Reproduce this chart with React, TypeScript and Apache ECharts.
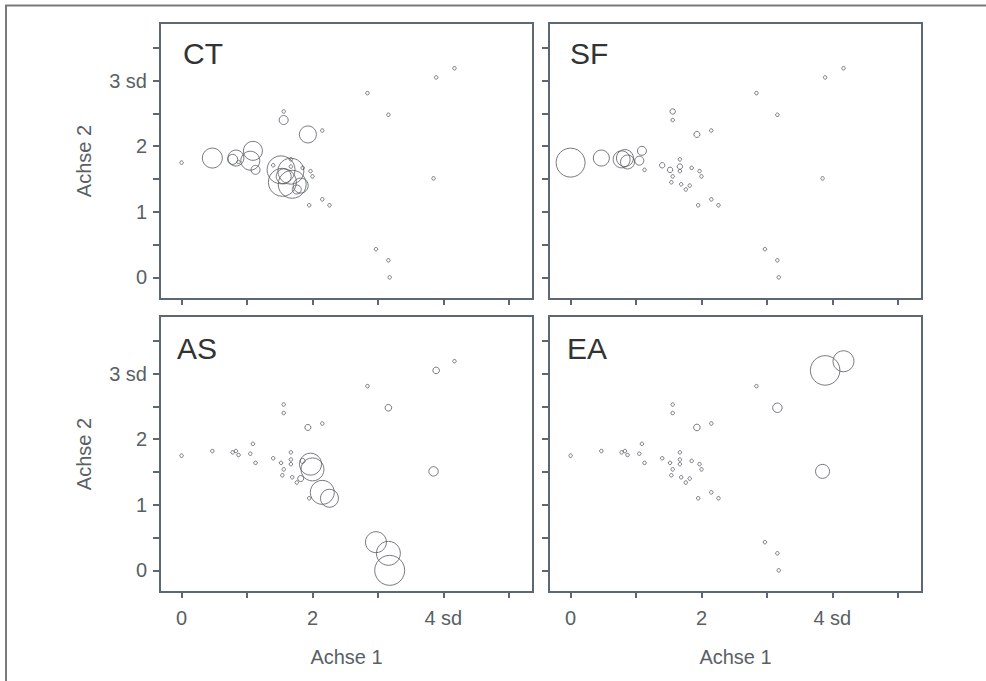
import React, { useEffect, useRef } from "react";
import * as echarts from "echarts";

// Point coordinates (shared by all four panels)
const axis1: number[] = [0.0, 0.47, 0.78, 0.83, 0.87, 1.05, 1.09, 1.13, 1.40, 1.52, 1.56, 1.56, 1.56, 1.54, 1.67, 1.67, 1.67, 1.69, 1.76, 1.82, 1.85, 1.93, 1.97, 2.0, 2.15, 2.15, 1.95, 2.26, 2.84, 3.16, 2.97, 3.16, 3.18, 3.85, 3.89, 4.17];
const axis2: number[] = [1.75, 1.82, 1.80, 1.82, 1.76, 1.78, 1.93, 1.64, 1.71, 1.64, 2.53, 2.40, 1.54, 1.45, 1.80, 1.69, 1.62, 1.42, 1.34, 1.40, 1.67, 2.18, 1.62, 1.54, 2.24, 1.19, 1.10, 1.10, 2.81, 2.48, 0.43, 0.26, 0.0, 1.51, 3.05, 3.19];

// Bubble weights per panel (0 = minimal marker)
const weightCT: number[] = [0, 10, 5, 8, 0, 9.5, 9.5, 4.5, 0, 14, 0, 4.5, 7.5, 14, 0, 0, 13, 14, 4.5, 7.5, 0, 8.5, 0, 0, 0, 0, 0, 0, 0, 0, 0, 0, 0, 0, 0, 0];
const weightSF: number[] = [14.5, 8, 8.5, 8.5, 7, 4.5, 4.5, 0, 2.7, 2.7, 2.7, 0, 0, 0, 0, 2.7, 0, 0, 0, 0, 0, 3, 0, 0, 0, 0, 0, 0, 0, 0, 0, 0, 0, 0, 0, 0];
const weightAS: number[] = [0, 0, 0, 0, 0, 0, 0, 0, 0, 0, 0, 0, 0, 0, 0, 0, 0, 0, 0, 3, 2.5, 3, 11, 11.5, 0, 12, 0, 9, 0, 3.3, 10.5, 12, 15, 4.7, 3.3, 0];
const weightEA: number[] = [0, 0, 0, 0, 0, 0, 0, 0, 0, 0, 0, 0, 0, 0, 0, 0, 0, 0, 0, 0, 0, 3.3, 0, 0, 0, 0, 0, 0, 0, 4.7, 0, 0, 0, 7, 14.8, 10.5];

const panelNames: string[] = ["CT", "SF", "AS", "EA"];
const xTickValues: number[] = [0, 1, 2, 3, 4, 5];
const xLabelValues: number[] = [0, 2, 4];
const yTickValues: number[] = [0, 0.5, 1, 1.5, 2, 2.5, 3, 3.5];
const yLabelValues: number[] = [0, 1, 2, 3];
const xAxisTitle = "Achse 1";
const yAxisTitle = "Achse 2";

const BOX = "#5e6874";
const TEXT = "#5a5f66";
const FONT = "Liberation Sans, Arial, sans-serif";

export default function App() {
  const ref = useRef<HTMLDivElement>(null);

  useEffect(() => {
    if (!ref.current) return;
    const chart = echarts.init(ref.current, null, { renderer: "svg" });
    const weights = [weightCT, weightSF, weightAS, weightEA];
    const grids = [
      { left: 160, top: 23 },
      { left: 549, top: 23 },
      { left: 160, top: 316 },
      { left: 549, top: 316 },
    ];
    const labelPos = [
      [183, 38],
      [570, 38],
      [177, 333],
      [567, 333],
    ];

    const option: any = {
      animation: false,
      backgroundColor: "#ffffff",
      grid: grids.map((g) => ({
        left: g.left,
        top: g.top,
        width: 373,
        height: 276,
        show: true,
        borderColor: BOX,
        borderWidth: 2,
        backgroundColor: "transparent",
      })),
      xAxis: grids.map((_, i) => ({
        type: "value",
        gridIndex: i,
        position: "bottom",
        min: -0.33,
        max: 5.37,
        axisLine: { show: false, onZero: false },
        splitLine: { show: false },
        axisTick: {
          show: true,
          customValues: xTickValues,
          length: 6,
          lineStyle: { color: BOX, width: 2 },
        },
        axisLabel: {
          show: i >= 2,
          customValues: xLabelValues,
          margin: 16,
          fontSize: 20,
          color: TEXT,
          fontFamily: FONT,
          formatter: (v: number) => (v === 4 ? "4 sd" : String(v)),
        },
        name: i >= 2 ? xAxisTitle : "",
        nameLocation: "middle",
        nameGap: 55,
        nameTextStyle: { fontSize: 20, color: TEXT, fontFamily: FONT },
      })),
      yAxis: grids.map((_, i) => ({
        type: "value",
        gridIndex: i,
        position: "left",
        min: -0.33,
        max: 3.88,
        axisLine: { show: false, onZero: false },
        splitLine: { show: false },
        axisTick: {
          show: true,
          customValues: yTickValues,
          length: 7,
          lineStyle: { color: BOX, width: 2 },
        },
        axisLabel: {
          show: i % 2 === 0,
          customValues: yLabelValues,
          margin: 13,
          fontSize: 20,
          color: TEXT,
          fontFamily: FONT,
          formatter: (v: number) => (v === 3 ? "3 sd" : String(v)),
        },
        name: i % 2 === 0 ? yAxisTitle : "",
        nameLocation: "middle",
        nameGap: 66,
        nameRotate: 90,
        nameTextStyle: { fontSize: 20, color: TEXT, fontFamily: FONT },
      })),
      series: weights.map((w, i) => ({
        type: "scatter",
        xAxisIndex: i,
        yAxisIndex: i,
        name: panelNames[i],
        symbol: "circle",
        symbolSize: (val: number[]) => (val[2] > 0 ? val[2] * 2 : 3.5),
        itemStyle: {
          color: "rgba(0,0,0,0)",
          borderColor: "#555a60",
          borderWidth: 1,
        },
        emphasis: { disabled: true },
        data: axis1.map((x, k) => [x, axis2[k], w[k]]),
      })),
      graphic: [
        {
          type: "polyline",
          shape: { points: [[6, 681], [6, 5.5], [986, 5.5]] },
          style: { stroke: "#7a7a7a", lineWidth: 2, fill: "none" },
          silent: true,
        },
        ...panelNames.map((n, i) => ({
          type: "text",
          x: labelPos[i][0],
          y: labelPos[i][1],
          style: {
            text: n,
            fontSize: 30,
            fill: "#333333",
            fontFamily: FONT,
            textVerticalAlign: "top",
          },
          silent: true,
        })),
      ],
    };
    chart.setOption(option);
    return () => chart.dispose();
  }, []);

  return (
    <div
      ref={ref}
      style={{ position: "fixed", left: 0, top: 0, width: 986, height: 681 }}
    />
  );
}
